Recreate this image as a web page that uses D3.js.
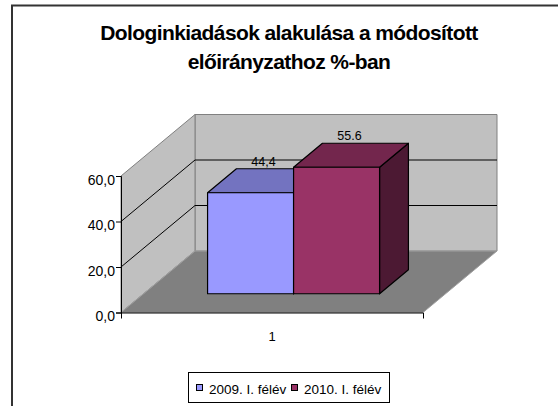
<!DOCTYPE html>
<html>
<head>
<meta charset="utf-8">
<script src="https://cdn.jsdelivr.net/npm/d3@7"></script>
<style>
  body { margin: 0; background: #fff; }
  text { font-family: "Liberation Sans", Arial, sans-serif; fill: #000; }
</style>
</head>
<body>
<svg id="chart" width="558" height="406"></svg>
<script>
var categories = ["1"];
var series = ["2009. I. félév", "2010. I. félév"];
var values = [44.4, 55.6];
var valueLabels = ["44,4", "55.6"];
var yTicks = [0, 20, 40, 60];
var yTickLabels = ["0,0", "20,0", "40,0", "60,0"];
var titleLines = ["Dologinkiadások alakulása a módosított", "előirányzathoz %-ban"];

var colors = [
  { front: "#9999ff", top: "#7373c0", side: "#4c4c80" },
  { front: "#993366", top: "#73264d", side: "#4c1933" }
];

var svg = d3.select("#chart");

// depth offset of the 3d box (front -> back)
var DX = 74, DY = -61.5;

var y = d3.scaleLinear().domain([0, 60]).range([312.5, 176]);
var x = d3.scaleBand().domain(categories).range([121, 423]);
var xs = d3.scaleBand().domain(series)
  .range([x(categories[0]) + 64, x(categories[0]) + 236]);

function P(px, v, z) {
  return [px + DX * z, y(v) + DY * z];
}
function poly(pts) {
  return "M" + pts.map(function (p) { return p.join(","); }).join("L") + "Z";
}

// chart border
svg.append("rect")
  .attr("x", 12).attr("y", 5.5).attr("width", 600).attr("height", 500)
  .attr("fill", "#fff").attr("stroke", "#333").attr("stroke-width", 2);

// title
svg.selectAll(".title")
  .data(titleLines)
  .join("text")
  .attr("class", "title")
  .attr("x", 289)
  .attr("y", function (d, i) { return 40 + i * 29; })
  .attr("text-anchor", "middle")
  .attr("font-size", 21)
  .attr("font-weight", "bold")
  .attr("letter-spacing", -0.6)
  .text(function (d) { return d; });

var x0 = x.range()[0], x1 = x.range()[1];

// back wall
svg.append("path")
  .attr("d", poly([P(x0, 0, 1), P(x0, 60, 1), P(x1, 60, 1), P(x1, 0, 1)]))
  .attr("fill", "#c0c0c0").attr("stroke", "#808080");
// side wall
svg.append("path")
  .attr("d", poly([P(x0, 0, 0), P(x0, 60, 0), P(x0, 60, 1), P(x0, 0, 1)]))
  .attr("fill", "#c0c0c0").attr("stroke", "#808080");
// floor
svg.append("path")
  .attr("d", poly([P(x0, 0, 0), P(x0, 0, 1), P(x1, 0, 1), P(x1, 0, 0)]))
  .attr("fill", "#808080").attr("stroke", "#a0a0a0");

// gridlines
var grid = yTicks.filter(function (d) { return d > 0 && d < 60; });
svg.selectAll(".grid")
  .data(grid)
  .join("path")
  .attr("class", "grid")
  .attr("d", function (d) {
    return "M" + P(x0, d, 0) + "L" + P(x0, d, 1) + "L" + P(x1, d, 1);
  })
  .attr("fill", "none").attr("stroke", "#000");

// y axis
var yAxis = svg.append("g")
  .attr("transform", "translate(" + x0 + ",0)")
  .call(d3.axisLeft(y).tickValues(yTicks).tickSize(5).tickPadding(1)
    .tickFormat(function (d, i) { return yTickLabels[i]; }));
yAxis.select(".domain").attr("stroke", "#000");
yAxis.selectAll("text")
  .attr("font-size", 14)
  .attr("font-family", "Liberation Sans, Arial, sans-serif")
  .attr("dy", "0.6em");

// x axis
var xAxis = svg.append("g")
  .attr("transform", "translate(0," + y(0) + ")")
  .call(d3.axisBottom(x).tickSizeInner(0).tickSizeOuter(6).tickPadding(19));
xAxis.select(".domain").attr("stroke", "#000");
xAxis.selectAll("text")
  .attr("font-size", 13)
  .attr("font-family", "Liberation Sans, Arial, sans-serif");

// bars
var z0 = 0.305, z1 = 0.695;
var bars = svg.selectAll(".bar")
  .data(values)
  .join("g")
  .attr("class", "bar");

bars.each(function (v, i) {
  var g = d3.select(this);
  var l = xs(series[i]), r = l + xs.bandwidth();
  var c = colors[i];
  g.append("path")
    .attr("d", poly([P(r, 0, z0), P(r, v, z0), P(r, v, z1), P(r, 0, z1)]))
    .attr("fill", c.side).attr("stroke", "#000").attr("stroke-width", 1.2)
    .attr("stroke-linejoin", "round");
  g.append("path")
    .attr("d", poly([P(l, v, z0), P(l, v, z1), P(r, v, z1), P(r, v, z0)]))
    .attr("fill", c.top).attr("stroke", "#000").attr("stroke-width", 1.2)
    .attr("stroke-linejoin", "round");
  g.append("path")
    .attr("d", poly([P(l, 0, z0), P(l, v, z0), P(r, v, z0), P(r, 0, z0)]))
    .attr("fill", c.front).attr("stroke", "#000").attr("stroke-width", 1.2)
    .attr("stroke-linejoin", "round");
});

// value labels
svg.selectAll(".vlabel")
  .data(values)
  .join("text")
  .attr("class", "vlabel")
  .attr("x", function (d, i) {
    return P(xs(series[i]) + xs.bandwidth() / 2, d, (z0 + z1) / 2 - 0.02)[0];
  })
  .attr("y", function (d, i) { return P(0, d, z1)[1] - 3; })
  .attr("text-anchor", "middle")
  .attr("font-size", 12.5)
  .text(function (d, i) { return valueLabels[i]; });

// legend
var legend = svg.append("g");
legend.append("rect")
  .attr("x", 188.5).attr("y", 372.5).attr("width", 201).attr("height", 30)
  .attr("fill", "#fff").attr("stroke", "#000");
var legX = [196, 291];
var items = legend.selectAll(".item")
  .data(series)
  .join("g")
  .attr("class", "item")
  .attr("transform", function (d, i) { return "translate(" + legX[i] + ",0)"; });
items.append("rect")
  .attr("x", 0.5).attr("y", 384.5).attr("width", 6).attr("height", 6)
  .attr("fill", function (d, i) { return colors[i].front; })
  .attr("stroke", "#000");
items.append("text")
  .attr("x", 13).attr("y", 394)
  .attr("font-size", 13.5)
  .text(function (d) { return d; });
</script>
</body>
</html>
